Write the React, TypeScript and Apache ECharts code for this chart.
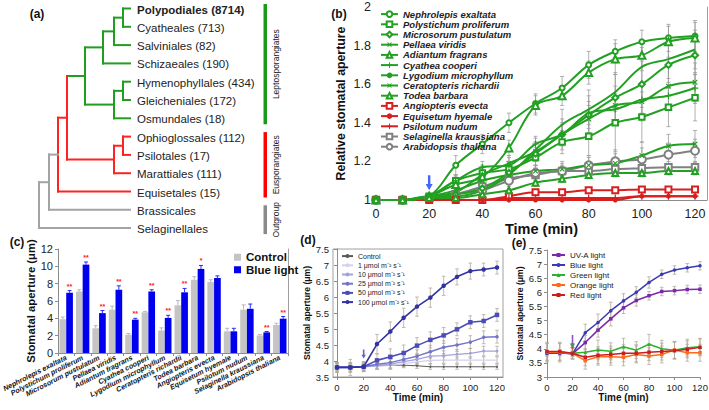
import React, { useEffect, useRef } from 'react';
import * as echarts from 'echarts';

const FONT = '"Liberation Sans", Arial, Helvetica, sans-serif';
const GREEN = '#22a022';
const RED = '#d81e1e';
const GRAY = '#808080';
const ERR_B = '#9c9c9c';
const ERR_DE = '#b3aa98';

const times = [0, 10, 20, 30, 40, 50, 60, 70, 80, 90, 100, 110, 120];
const timeTicks = [0, 20, 40, 60, 80, 100, 120];

// ---------- (a) cladogram ----------
const orderLabels = [
  'Polypodiales (8714)', 'Cyatheales (713)', 'Salviniales (82)', 'Schizaeales (190)',
  'Hymenophyllales (434)', 'Gleicheniales (172)', 'Osmundales (18)', 'Ophioglossales (112)',
  'Psilotales (17)', 'Marattiales (111)', 'Equisetales (15)', 'Brassicales', 'Selaginellales',
];
const groupLabels = ['Leptosporangiates', 'Eusporangiates', 'Outgroup'];
const groupRows = [[0, 6], [7, 10], [11, 12]];

// ---------- (b) relative stomatal aperture ----------
const bNames = [
  'Nephrolepis exaltata', 'Polystichum proliferum', 'Microsorum pustulatum', 'Pellaea viridis',
  'Adiantum fragrans', 'Cyathea cooperi', 'Lygodium microphyllum', 'Ceratopteris richardii',
  'Todea barbara', 'Angiopteris evecta', 'Equisetum hyemale', 'Psilotum nudum',
  'Selaginella kraussiana', 'Arabidopsis thaliana',
];
const nephRel = [1, 1, 1.02, 1.18, 1.29, 1.40, 1.50, 1.58, 1.70, 1.77, 1.82, 1.84, 1.85];
const polyRel = [1, 1, 1.02, 1.10, 1.14, 1.16, 1.22, 1.30, 1.33, 1.40, 1.43, 1.48, 1.53];
const micrRel = [1, 1, 1.02, 1.03, 1.06, 1.14, 1.24, 1.34, 1.44, 1.53, 1.60, 1.70, 1.75];
const pellRel = [1, 1, 1.02, 1.04, 1.13, 1.19, 1.25, 1.34, 1.42, 1.49, 1.51, 1.59, 1.61];
const adiaRel = [1, 1, 1.02, 1.08, 1.12, 1.27, 1.49, 1.54, 1.66, 1.73, 1.75, 1.82, 1.84];
const cyatRel = [1, 1, 1.02, 1.10, 1.17, 1.18, 1.29, 1.34, 1.45, 1.47, 1.52, 1.54, 1.58];
const lygoRel = [1, 1, 1.02, 1.02, 1.05, 1.13, 1.26, 1.39, 1.47, 1.56, 1.69, 1.73, 1.78];
const ceraRel = [1, 1, 1.02, 1.05, 1.10, 1.13, 1.15, 1.16, 1.18, 1.19, 1.23, 1.28, 1.29];
const todeRel = [1, 1, 1.01, 1.01, 1.03, 1.05, 1.09, 1.11, 1.13, 1.14, 1.14, 1.15, 1.15];
const angiRel = [1, 1, 1, 1, 1, 1.02, 1.04, 1.04, 1.05, 1.05, 1.055, 1.055, 1.055];
const equiRel = [1, 1, 1, 1, 1, 1, 1, 1, 1, 1, 1.02, 1.02, 1.02];
const psilRel = [1, 1, 1, 1, 1, 1.01, 1.01, 1.01, 1.01, 1.01, 1.02, 1.02, 1.02];
const selaRel = [1, 1, 1.01, 1.03, 1.07, 1.11, 1.13, 1.15, 1.15, 1.16, 1.165, 1.17, 1.17];
const arabRel = [1, 1, 1.01, 1.03, 1.05, 1.10, 1.14, 1.15, 1.18, 1.20, 1.21, 1.235, 1.255];

const nephErr = [0, 0, 0.01, 0.05, 0.05, 0.05, 0.05, 0.06, 0.07, 0.06, 0.06, 0.07, 0.08];
const polyErr = [0, 0, 0.01, 0.03, 0.04, 0.04, 0.05, 0.06, 0.10, 0.15, 0.13, 0.10, 0.12];
const micrErr = [0, 0, 0.01, 0.03, 0.04, 0.05, 0.06, 0.08, 0.10, 0.12, 0.12, 0.12, 0.10];
const pellErr = [0, 0, 0.01, 0.02, 0.03, 0.04, 0.05, 0.06, 0.07, 0.10, 0.10, 0.10, 0.10];
const adiaErr = [0, 0, 0.01, 0.04, 0.04, 0.04, 0.05, 0.05, 0.06, 0.08, 0.08, 0.08, 0.08];
const cyatErr = [0, 0, 0.01, 0.03, 0.03, 0.04, 0.04, 0.05, 0.06, 0.06, 0.07, 0.07, 0.08];
const lygoErr = [0, 0, 0.01, 0.03, 0.04, 0.05, 0.06, 0.08, 0.10, 0.10, 0.10, 0.10, 0.10];
const ceraErr = [0, 0, 0.01, 0.02, 0.02, 0.03, 0.03, 0.04, 0.04, 0.05, 0.07, 0.06, 0.07];
const todeErr = [0, 0, 0, 0.01, 0.01, 0.02, 0.02, 0.02, 0.02, 0.02, 0.02, 0.02, 0.02];
const angiErr = [0, 0, 0, 0, 0.01, 0.01, 0.01, 0.01, 0.01, 0.01, 0.01, 0.01, 0.01];
const equiErr = [0, 0, 0, 0, 0, 0, 0, 0, 0, 0, 0.01, 0.01, 0.01];
const psilErr = [0, 0, 0, 0, 0, 0.01, 0.01, 0.01, 0.01, 0.01, 0.01, 0.01, 0.01];
const selaErr = [0, 0, 0.01, 0.02, 0.03, 0.03, 0.03, 0.03, 0.03, 0.03, 0.03, 0.03, 0.03];
const arabErr = [0, 0, 0.01, 0.02, 0.03, 0.04, 0.04, 0.04, 0.05, 0.06, 0.06, 0.06, 0.06];
const bArrow = [20, 1.09];

// ---------- (c) stomatal aperture bars ----------
const cNames = bNames;
const cControl = [3.9, 7.1, 2.85, 5.0, 2.1, 4.7, 2.6, 5.5, 8.45, 8.2, 2.5, 5.0, 2.03, 3.23];
const cBlue = [6.95, 10.2, 4.6, 7.3, 3.85, 7.1, 4.05, 7.0, 9.7, 8.65, 2.5, 5.1, 2.38, 3.96];
const cControlErr = [0.25, 0.2, 0.3, 0.4, 0.15, 0.1, 0.3, 0.55, 0.35, 0.25, 0.35, 0.55, 0.1, 0.2];
const cBlueErr = [0.25, 0.3, 0.3, 0.45, 0.15, 0.2, 0.3, 0.45, 0.4, 0.25, 0.35, 0.55, 0.1, 0.25];
const cStars = ['**', '**', '**', '**', '**', '**', '**', '**', '*', '', '', '', '**', '**'];

// ---------- (d) blue light intensity ----------
const dNames = ['Control', '1 μmol m⁻² s⁻¹', '10 μmol m⁻² s⁻¹', '25 μmol m⁻² s⁻¹', '50 μmol m⁻² s⁻¹', '100 μmol m⁻² s⁻¹'];
const dControl = [3.8, 3.82, 3.82, 3.85, 3.87, 3.87, 3.85, 3.82, 3.82, 3.82, 3.82, 3.82, 3.82];
const d1 = [3.82, 3.82, 3.82, 3.84, 3.86, 3.92, 3.97, 4.02, 4.03, 4.03, 4.03, 4.03, 4.03];
const d10 = [3.8, 3.8, 3.82, 3.86, 3.9, 3.98, 4.05, 4.15, 4.17, 4.21, 4.24, 4.31, 4.31];
const d25 = [3.8, 3.8, 3.82, 3.9, 3.95, 4.05, 4.15, 4.29, 4.43, 4.5, 4.59, 4.74, 4.76];
const d50 = [3.8, 3.8, 3.82, 4.02, 4.13, 4.25, 4.48, 4.66, 4.8, 4.99, 5.21, 5.25, 5.44];
const d100 = [3.8, 3.8, 3.82, 4.53, 4.92, 5.35, 5.7, 5.98, 6.35, 6.63, 6.81, 6.86, 6.92];
const dControlErr = [0.08, 0.08, 0.08, 0.08, 0.08, 0.08, 0.08, 0.08, 0.08, 0.08, 0.08, 0.08, 0.08];
const d1Err = [0.1, 0.1, 0.1, 0.1, 0.1, 0.1, 0.1, 0.1, 0.1, 0.1, 0.1, 0.1, 0.1];
const d10Err = [0.12, 0.12, 0.12, 0.12, 0.15, 0.15, 0.15, 0.15, 0.15, 0.15, 0.15, 0.15, 0.15];
const d25Err = [0.15, 0.15, 0.15, 0.15, 0.2, 0.2, 0.2, 0.2, 0.2, 0.2, 0.2, 0.2, 0.2];
const d50Err = [0.15, 0.15, 0.15, 0.2, 0.25, 0.25, 0.25, 0.25, 0.25, 0.2, 0.2, 0.2, 0.2];
const d100Err = [0.15, 0.25, 0.15, 0.3, 0.3, 0.3, 0.3, 0.3, 0.3, 0.25, 0.25, 0.2, 0.2];
const dArrow = [20, 4.22];

// ---------- (e) light quality ----------
const eNames = ['UV-A light', 'Blue light', 'Green light', 'Orange light', 'Red light'];
const eUva = [3.85, 3.85, 3.82, 4.22, 4.66, 5.06, 5.45, 5.71, 5.88, 6.03, 6.06, 6.1, 6.11];
const eBlue = [3.84, 3.86, 3.82, 4.57, 4.93, 5.35, 5.7, 6.0, 6.35, 6.64, 6.79, 6.87, 6.94];
const eGreen = [3.88, 3.88, 3.84, 3.88, 3.96, 3.91, 4.07, 3.95, 4.16, 4.0, 3.95, 4.04, 4.07];
const eOrange = [3.88, 3.88, 3.84, 3.58, 3.72, 3.72, 3.7, 3.8, 3.74, 3.8, 3.96, 3.86, 3.86];
const eRed = [3.9, 3.9, 3.84, 3.7, 3.77, 3.8, 3.84, 3.84, 3.88, 3.9, 3.93, 3.98, 4.05];
const eUvaErr = [0.1, 0.1, 0.1, 0.25, 0.25, 0.25, 0.2, 0.2, 0.15, 0.15, 0.15, 0.15, 0.15];
const eBlueErr = [0.1, 0.1, 0.1, 0.3, 0.3, 0.3, 0.25, 0.2, 0.2, 0.15, 0.15, 0.15, 0.15];
const eGreenErr = [0.35, 0.35, 0.2, 0.3, 0.35, 0.3, 0.3, 0.3, 0.35, 0.3, 0.3, 0.3, 0.3];
const eOrangeErr = [0.3, 0.3, 0.2, 0.3, 0.3, 0.3, 0.3, 0.3, 0.3, 0.3, 0.3, 0.3, 0.3];
const eRedErr = [0.3, 0.3, 0.2, 0.3, 0.3, 0.3, 0.3, 0.3, 0.3, 0.3, 0.3, 0.3, 0.3];
const eArrow = [20, 4.24];

const PLUS = 'path://M3.3,0H4.7V3.3H8V4.7H4.7V8H3.3V4.7H0V3.3H3.3Z';
const ARROW = 'path://M2.6,0H5.4V7H8L4,12L0,7H2.6Z';

// tree topology (ranks are depth levels)
const TG = '#1f9e1f';
const TR = '#ff2222';
const TGY = '#a3a3a3';
const tree = {
  rank: 0, color: TGY, kids: [
    { rank: 1, color: TGY, edge: TGY, kids: [
      { rank: 2, color: TR, edge: TGY, kids: [
        { rank: 3, color: TR, edge: TR, kids: [
          { rank: 4, color: TG, edge: TG, kids: [
            { rank: 5, color: TG, edge: TG, kids: [
              { rank: 6, color: TG, edge: TG, kids: [
                { rank: 7, color: TG, edge: TG, kids: [{ leaf: 0, color: TG }, { leaf: 1, color: TG }] },
                { leaf: 2, color: TG }] },
              { leaf: 3, color: TG }] },
            { rank: 6, color: TG, edge: TG, kids: [
              { rank: 7, color: TG, edge: TG, kids: [{ leaf: 4, color: TG }, { leaf: 5, color: TG }] },
              { leaf: 6, color: TG }] }] },
          { rank: 6, color: TR, edge: TR, kids: [
            { rank: 7, color: TR, edge: TR, kids: [{ leaf: 7, color: TR }, { leaf: 8, color: TR }] },
            { leaf: 9, color: TR }] }] },
        { leaf: 10, color: TR }] },
      { leaf: 11, color: TGY }] },
    { leaf: 12, color: TGY }] };

const RANK_X = [39, 49, 58, 67, 85, 103, 114, 123];
const LEAF_X = 130;
const rowY = (i: number) => 8.5 + i * 18.3;

function seg(x1: number, y1: number, x2: number, y2: number, color: string) {
  return { type: 'line', silent: true, shape: { x1, y1, x2, y2 }, style: { stroke: color, lineWidth: 2, lineCap: 'square' } };
}

function buildTree(node: any, parentX: number | null, els: any[]): number {
  if (node.leaf !== undefined) {
    const y = rowY(node.leaf);
    els.push(seg(parentX as number, y, LEAF_X, y, node.color));
    return y;
  }
  const x = RANK_X[node.rank];
  const ys = node.kids.map((k: any) => buildTree(k, x, els));
  const y0 = Math.min(...ys);
  const y1 = Math.max(...ys);
  els.push(seg(x, y0, x, y1, node.color));
  const y = (y0 + y1) / 2;
  if (parentX !== null) els.push(seg(parentX, y, x, y, node.edge));
  return y;
}

function errSeries(xi: number, yi: number, xs: number[], vals: number[], errs: number[], color: string, cap = 2, lw = 0.8) {
  const data: number[][] = [];
  xs.forEach((x, i) => { if (errs[i] > 0.012) data.push([x, vals[i] - errs[i], vals[i] + errs[i]]); });
  return {
    type: 'custom', xAxisIndex: xi, yAxisIndex: yi, silent: true, z: 1,
    data,
    renderItem: (_p: any, api: any) => {
      const x = api.value(0);
      const a = api.coord([x, api.value(1)]);
      const b = api.coord([x, api.value(2)]);
      const st = { stroke: color, lineWidth: lw };
      return { type: 'group', children: [
        { type: 'line', shape: { x1: a[0], y1: a[1], x2: b[0], y2: b[1] }, style: st },
        { type: 'line', shape: { x1: a[0] - cap, y1: a[1], x2: a[0] + cap, y2: a[1] }, style: st },
        { type: 'line', shape: { x1: b[0] - cap, y1: b[1], x2: b[0] + cap, y2: b[1] }, style: st },
      ] };
    },
  };
}

function barErrSeries(vals: number[], errs: number[], stars: string[] | null, dx: number, color: string) {
  return {
    type: 'custom', xAxisIndex: 1, yAxisIndex: 2, silent: true, z: 5,
    data: vals.map((v, i) => [i, v, v + errs[i]]),
    renderItem: (p: any, api: any) => {
      const i = api.value(0);
      const a = api.coord([i, api.value(1)]);
      const b = api.coord([i, api.value(2)]);
      const x = a[0] + dx;
      const st = { stroke: color, lineWidth: 1 };
      const ch: any[] = [
        { type: 'line', shape: { x1: x, y1: a[1], x2: x, y2: b[1] }, style: st },
        { type: 'line', shape: { x1: x - 2, y1: b[1], x2: x + 2, y2: b[1] }, style: st },
      ];
      if (stars && stars[p.dataIndex]) {
        ch.push({ type: 'text', x, y: b[1] - 1, style: { text: stars[p.dataIndex], fill: '#ff2020', fontSize: 7, fontWeight: 'bold', fontFamily: FONT, align: 'center', verticalAlign: 'bottom' } });
      }
      return { type: 'group', children: ch };
    },
  };
}

const pairs = (vals: number[]) => times.map((t, i) => [t, vals[i]]);

function buildOption() {
  const treeEls: any[] = [];
  buildTree(tree, null, treeEls);
  const groupColors = ['#1a9a1a', '#ff0000', '#8a8a8a'];
  const graphics: any[] = [...treeEls];
  orderLabels.forEach((t, i) => {
    graphics.push({ type: 'text', silent: true, x: 137, y: rowY(i) + 1, style: { text: t, fontSize: 11.5, fontWeight: i === 0 ? 'bold' : 'normal', fontFamily: FONT, fill: '#222', align: 'left', verticalAlign: 'middle' } });
  });
  groupRows.forEach((r, gi) => {
    const y0 = rowY(r[0]) - 4.5;
    const y1 = rowY(r[1]) + 6;
    graphics.push({ type: 'rect', silent: true, shape: { x: 263.5, y: y0, width: 3.5, height: y1 - y0 }, style: { fill: groupColors[gi] } });
    graphics.push({ type: 'text', silent: true, x: 276, y: (y0 + y1) / 2, rotation: Math.PI / 2, style: { text: groupLabels[gi], fontSize: 8.5, fontFamily: FONT, fill: '#222', align: 'center', verticalAlign: 'middle' } });
  });
  const panelLabels = [['(a)', 37, 14], ['(b)', 339, 14], ['(c)', 17, 242], ['(d)', 308, 240], ['(e)', 519, 243]];
  panelLabels.forEach(([t, x, y]) => {
    graphics.push({ type: 'text', silent: true, x, y, style: { text: t, fontSize: 12, fontWeight: 'bold', fontFamily: FONT, fill: '#111', align: 'center', verticalAlign: 'middle' } });
  });

  const bStyle = [
    [nephRel, nephErr, GREEN, 'emptyCircle', 5, 0],
    [polyRel, polyErr, GREEN, 'emptyRect', 5.5, 0],
    [micrRel, micrErr, GREEN, 'emptyDiamond', 6, 0],
    [pellRel, pellErr, GREEN, PLUS, 6.5, 45],
    [adiaRel, adiaErr, GREEN, 'emptyTriangle', 7, 0],
    [cyatRel, cyatErr, GREEN, PLUS, 6.5, 0],
    [lygoRel, lygoErr, GREEN, 'none', 0, 0],
    [ceraRel, ceraErr, GREEN, PLUS, 6.5, 45],
    [todeRel, todeErr, GREEN, 'emptyTriangle', 6, 0],
    [angiRel, angiErr, RED, 'emptyRect', 6, 0],
    [equiRel, equiErr, RED, 'circle', 5, 0],
    [psilRel, psilErr, RED, PLUS, 7, 0],
    [selaRel, selaErr, GRAY, 'emptyRect', 6.5, 0],
    [arabRel, arabErr, GRAY, 'emptyCircle', 8, 0],
  ];

  const series: any[] = [];
  bStyle.forEach((s: any) => series.push(errSeries(0, 0, times, s[0], s[1], ERR_B, 2, 0.8)));
  const drawOrder = [12, 13, 9, 10, 11, 0, 1, 2, 3, 4, 5, 6, 7, 8];
  drawOrder.forEach((idx) => {
    const s: any = bStyle[idx];
    series.push({
      type: 'line', name: bNames[idx], xAxisIndex: 0, yAxisIndex: 0, data: pairs(s[0]),
      smooth: 0.35, symbol: s[3], symbolSize: s[4], symbolRotate: s[5], showSymbol: s[3] !== 'none',
      lineStyle: { color: s[2], width: 2 }, itemStyle: { color: s[2], borderWidth: 1 }, z: 3,
    });
  });
  series.push({ type: 'scatter', xAxisIndex: 0, yAxisIndex: 0, silent: true, data: [bArrow], symbol: ARROW, symbolSize: [7, 15], itemStyle: { color: '#1a40ff' }, z: 10 });

  // (c)
  series.push({ type: 'bar', name: 'Control', xAxisIndex: 1, yAxisIndex: 2, data: cControl, barWidth: 6.7, barGap: '0%', itemStyle: { color: '#c4c4c4' }, z: 2 });
  series.push({ type: 'bar', name: 'Blue light', xAxisIndex: 1, yAxisIndex: 2, data: cBlue, barWidth: 6.7, barGap: '0%', itemStyle: { color: '#0000ee' }, z: 2 });
  series.push(barErrSeries(cControl, cControlErr, null, -3.35, '#b8b8b8'));
  series.push(barErrSeries(cBlue, cBlueErr, cStars, 3.35, '#2a2aff'));

  // (d)
  const dStyle = [
    [dControl, dControlErr, '#5a5a5a', 'circle', 2, 1],
    [d1, d1Err, '#d2d2ef', 'none', 0, 1.2],
    [d10, d10Err, '#a2a2dc', 'circle', 3, 1.3],
    [d25, d25Err, '#7474c8', 'circle', 3.5, 1.4],
    [d50, d50Err, '#4c4cb8', 'rect', 4.5, 1.6],
    [d100, d100Err, '#3232a2', 'circle', 4.5, 1.6],
  ];
  dStyle.forEach((s: any) => series.push(errSeries(2, 4, times, s[0], s[1], ERR_DE, 1.8, 0.8)));
  dStyle.forEach((s: any, i) => {
    series.push({
      type: 'line', name: i === 0 ? 'Control ' : dNames[i], xAxisIndex: 2, yAxisIndex: 4, data: pairs(s[0]),
      symbol: s[3], symbolSize: s[4], showSymbol: s[3] !== 'none',
      lineStyle: { color: s[2], width: s[5] }, itemStyle: { color: s[2] }, z: 3,
    });
  });
  series.push({ type: 'scatter', xAxisIndex: 2, yAxisIndex: 4, silent: true, data: [dArrow], symbol: ARROW, symbolSize: [4.5, 9], itemStyle: { color: '#3c3cb8' }, z: 10 });

  // (e)
  const eStyle = [
    [eUva, eUvaErr, '#7a2aa8', 'rect'],
    [eBlue, eBlueErr, '#3a3ab4', 'circle'],
    [eGreen, eGreenErr, '#30b030', 'triangle'],
    [eOrange, eOrangeErr, '#ff6a1a', 'rect'],
    [eRed, eRedErr, '#c81e1e', 'rect'],
  ];
  eStyle.forEach((s: any) => series.push(errSeries(3, 5, times, s[0], s[1], ERR_DE, 1.8, 0.8)));
  eStyle.forEach((s: any, i) => {
    series.push({
      type: 'line', name: i === 1 ? 'Blue light ' : eNames[i], xAxisIndex: 3, yAxisIndex: 5, data: pairs(s[0]),
      symbol: s[3], symbolSize: 3.5, lineStyle: { color: s[2], width: 1.5 }, itemStyle: { color: s[2] }, z: 3,
    });
  });
  series.push({ type: 'scatter', xAxisIndex: 3, yAxisIndex: 5, silent: true, data: [eArrow], symbol: ARROW, symbolSize: [4.5, 14], itemStyle: { color: '#6a2ab0' }, z: 10 });
  series.push({ type: 'scatter', xAxisIndex: 3, yAxisIndex: 5, silent: true, data: [[20, 4.08]], symbol: 'triangle', symbolRotate: 180, symbolSize: [5, 4], itemStyle: { color: '#30b030' }, z: 11 });
  series.push({ type: 'scatter', xAxisIndex: 3, yAxisIndex: 5, silent: true, data: [[20, 3.99]], symbol: 'triangle', symbolRotate: 180, symbolSize: [4, 3.5], itemStyle: { color: '#e04a1a' }, z: 11 });

  const axLine = { show: true, lineStyle: { color: '#8c8c8c', width: 1 } };
  const lbl = (fs: number, margin: number) => ({ fontSize: fs, color: '#222', fontFamily: FONT, margin });
  const nameStyle = (fs: number) => ({ fontWeight: 'bold', fontSize: fs, fontFamily: FONT, color: '#111' });

  return {
    animation: false,
    backgroundColor: '#fff',
    textStyle: { fontFamily: FONT },
    graphic: graphics,
    grid: [
      { left: 376, top: 7, width: 331, height: 193, outerBoundsMode: 'none' },
      { left: 58, top: 249, width: 230, height: 104, outerBoundsMode: 'none' },
      { left: 333, top: 249, width: 170, height: 128, show: true, borderColor: '#a0a0a0', borderWidth: 1, outerBoundsMode: 'none' },
      { left: 547, top: 250, width: 153, height: 127, outerBoundsMode: 'none' },
    ],
    xAxis: [
      { gridIndex: 0, type: 'value', min: 0, max: 124.5, interval: 20, axisLine: axLine, axisTick: { show: false }, splitLine: { show: false },
        axisLabel: { ...lbl(12.5, 7), formatter: (v: number) => (v % 20 === 0 && v <= 120 ? String(v) : '') },
        name: 'Time (min)', nameLocation: 'middle', nameGap: 21, nameTextStyle: nameStyle(14.5) },
      { gridIndex: 1, type: 'category', data: cNames, axisLine: axLine, axisTick: { show: true, length: 3, lineStyle: { color: '#8c8c8c' } },
        axisLabel: { fontSize: 7.2, fontStyle: 'italic', fontWeight: 'bold', color: '#111', fontFamily: FONT, rotate: 27, interval: 0, margin: 4 } },
      { gridIndex: 2, type: 'value', min: -3, max: 124.5, axisLine: axLine, splitLine: { show: false },
        axisTick: { show: true, length: 3, customValues: timeTicks },
        axisLabel: { ...lbl(9.5, 5), customValues: timeTicks },
        name: 'Time (min)', nameLocation: 'middle', nameGap: 13, nameTextStyle: nameStyle(10) },
      { gridIndex: 3, type: 'value', min: 0, max: 120, interval: 20, axisLine: axLine, splitLine: { show: false },
        axisTick: { show: true, length: 3 }, axisLabel: lbl(9.5, 5),
        name: 'Time (min)', nameLocation: 'middle', nameGap: 13, nameTextStyle: nameStyle(10) },
    ],
    yAxis: [
      { gridIndex: 0, type: 'value', min: 1, max: 2, interval: 0.2, axisLine: { show: false }, axisTick: { show: false }, splitLine: { show: false },
        axisLabel: lbl(12.5, 5),
        name: 'Relative stomatal aperture', nameLocation: 'middle', nameGap: 29, nameTextStyle: nameStyle(12.3) },
      { gridIndex: 0, type: 'value', position: 'right', min: 1, max: 2, axisLine: { show: true, lineStyle: { color: '#a0a0a0' } }, axisTick: { show: false }, axisLabel: { show: false }, splitLine: { show: false } },
      { gridIndex: 1, type: 'value', min: 0, max: 12, interval: 2, axisLine: axLine, axisTick: { show: true, length: 3 }, splitLine: { show: false },
        axisLabel: lbl(11, 5),
        name: 'Stomatal aperture (μm)', nameLocation: 'middle', nameGap: 18, nameTextStyle: nameStyle(11.3) },
      { gridIndex: 1, type: 'value', position: 'right', min: 0, max: 12, axisLine: { show: true, lineStyle: { color: '#a0a0a0' } }, axisTick: { show: false }, axisLabel: { show: false }, splitLine: { show: false } },
      { gridIndex: 2, type: 'value', min: 3.5, max: 7.5, interval: 0.5, axisLine: axLine, axisTick: { show: true, length: 3 }, splitLine: { show: false },
        axisLabel: lbl(9.5, 4),
        name: 'Stomatal aperture (μm)', nameLocation: 'middle', nameGap: 16, nameTextStyle: nameStyle(8.6) },
      { gridIndex: 3, type: 'value', min: 3, max: 7.5, interval: 0.5, axisLine: axLine, axisTick: { show: true, length: 3 }, splitLine: { show: false },
        axisLabel: lbl(9.5, 5),
        name: 'Stomatal aperture (μm)', nameLocation: 'middle', nameGap: 21, nameTextStyle: nameStyle(8.6) },
    ],
    legend: [
      { data: bNames, orient: 'vertical', left: 380, top: 9, padding: 0, itemGap: 0, itemWidth: 17, itemHeight: 7,
        textStyle: { fontSize: 9.5, fontStyle: 'italic', fontWeight: 'bold', color: '#222', lineHeight: 10.2, fontFamily: FONT } },
      { data: ['Control', 'Blue light'], orient: 'vertical', left: 234, top: 251, padding: 0, itemGap: 0, itemWidth: 7, itemHeight: 7, icon: 'rect',
        textStyle: { fontSize: 11.5, fontWeight: 'bold', color: '#111', lineHeight: 12.5, fontFamily: FONT } },
      { data: ['Control ', ...dNames.slice(1)], orient: 'vertical', left: 341, top: 251.5, padding: 0, itemGap: 0, itemWidth: 11, itemHeight: 5,
        formatter: (n: string) => n.trim(), textStyle: { fontSize: 7, color: '#222', lineHeight: 9.2, fontFamily: FONT } },
      { data: ['UV-A light', 'Blue light ', 'Green light', 'Orange light', 'Red light'], orient: 'vertical', left: 551, top: 250, padding: 0, itemGap: 0, itemWidth: 13, itemHeight: 5,
        formatter: (n: string) => n.trim(), textStyle: { fontSize: 8, color: '#222', lineHeight: 10, fontFamily: FONT } },
    ],
    series,
  };
}

export default function App() {
  const ref = useRef<HTMLDivElement>(null);
  useEffect(() => {
    const chart = echarts.init(ref.current as HTMLDivElement, undefined, { renderer: 'svg' });
    chart.setOption(buildOption() as any);
    return () => chart.dispose();
  }, []);
  return <div ref={ref} style={{ position: 'fixed', left: 0, top: 0, width: 709, height: 410, background: '#fff' }} />;
}
